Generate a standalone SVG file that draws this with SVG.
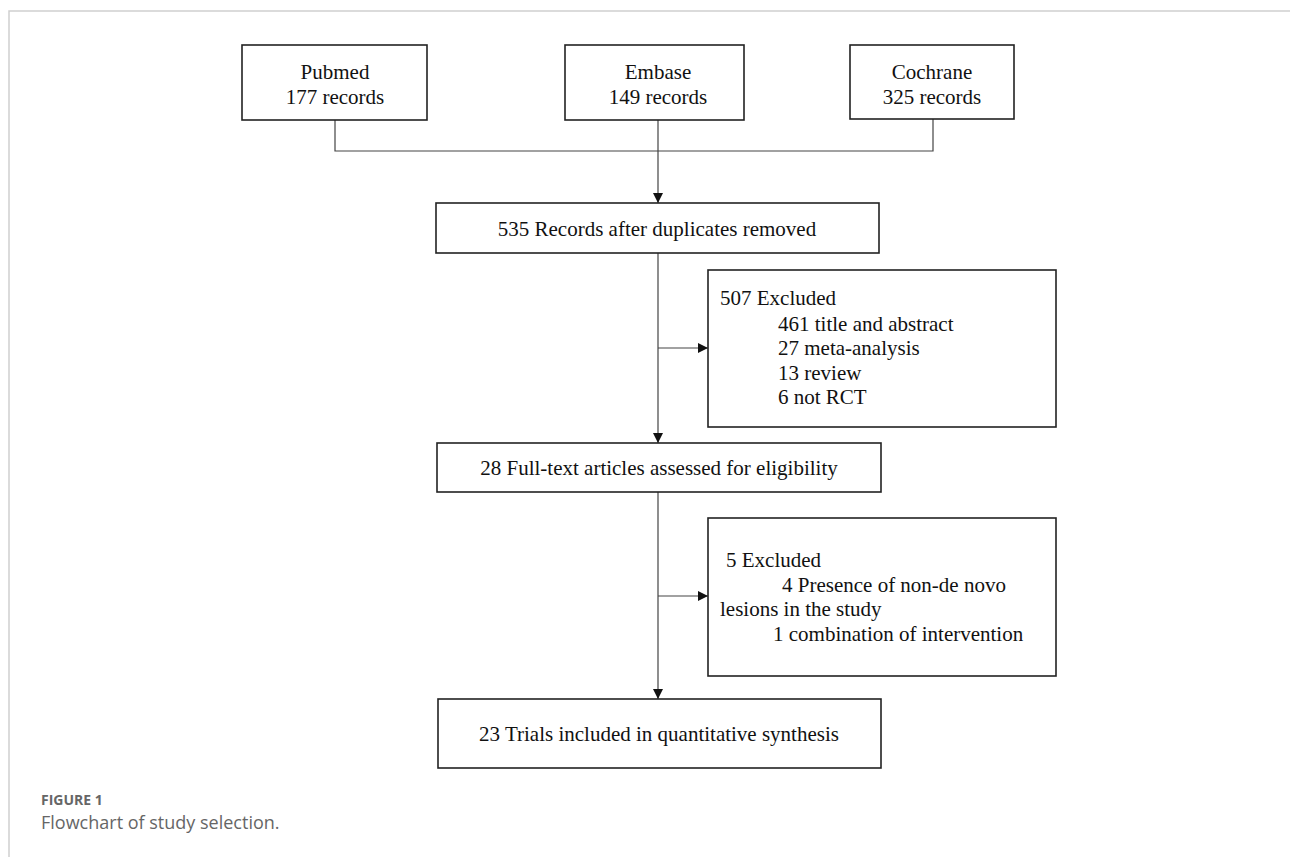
<svg xmlns="http://www.w3.org/2000/svg" width="1290" height="857" viewBox="0 0 1290 857">
<style>
.box{fill:#fff;stroke:#222;stroke-width:1.6}
.t{font-family:"Liberation Serif","Times New Roman",serif;font-size:21px;fill:#111}
.c{text-anchor:middle}
.ln{stroke:#444;stroke-width:1.2;fill:none}
.frame{stroke:#cfcfcf;stroke-width:1.5;fill:none}
</style>
<defs>
<marker id="arr" viewBox="0 0 10 10" refX="10" refY="5" markerWidth="10" markerHeight="10" markerUnits="userSpaceOnUse" orient="auto">
<path d="M0,0 L10,5 L0,10 z" fill="#111"/>
</marker>
</defs>
<path class="frame" d="M9,857 V11 H1290"/>
<g id="connectors">
<path class="ln" d="M335,120 V151 H933 V119"/>
<path class="ln" d="M658,120 V203" marker-end="url(#arr)"/>
<path class="ln" d="M658,253 V443" marker-end="url(#arr)"/>
<path class="ln" d="M658,348 H708" marker-end="url(#arr)"/>
<path class="ln" d="M658,492 V699" marker-end="url(#arr)"/>
<path class="ln" d="M658,596 H708" marker-end="url(#arr)"/>
</g>
<g id="pubmed">
<rect class="box" x="242" y="45" width="185" height="75"/>
<text class="t c" x="335" y="79">Pubmed</text>
<text class="t c" x="335" y="104">177 records</text>
</g>
<g id="embase">
<rect class="box" x="565" y="45" width="179" height="75"/>
<text class="t c" x="658" y="79">Embase</text>
<text class="t c" x="658" y="104">149 records</text>
</g>
<g id="cochrane">
<rect class="box" x="850" y="45" width="164" height="74"/>
<text class="t c" x="932" y="79">Cochrane</text>
<text class="t c" x="932" y="104">325 records</text>
</g>
<g id="dedup">
<rect class="box" x="436" y="203" width="443" height="50"/>
<text class="t c" x="657" y="236">535 Records after duplicates removed</text>
</g>
<g id="excluded1">
<rect class="box" x="708" y="270" width="348" height="157"/>
<text class="t" x="720" y="305">507 Excluded</text>
<text class="t" x="778" y="331">461 title and abstract</text>
<text class="t" x="778" y="355">27 meta-analysis</text>
<text class="t" x="778" y="380">13 review</text>
<text class="t" x="778" y="404">6 not RCT</text>
</g>
<g id="fulltext">
<rect class="box" x="437" y="443" width="444" height="49"/>
<text class="t c" x="659" y="475">28 Full-text articles assessed for eligibility</text>
</g>
<g id="excluded2">
<rect class="box" x="708" y="518" width="348" height="158"/>
<text class="t" x="726" y="567">5 Excluded</text>
<text class="t" x="782" y="592">4 Presence of non-de novo</text>
<text class="t" x="720" y="616">lesions in the study</text>
<text class="t" x="773" y="641">1 combination of intervention</text>
</g>
<g id="included">
<rect class="box" x="438" y="699" width="443" height="69"/>
<text class="t c" x="659" y="741">23 Trials included in quantitative synthesis</text>
</g>
<g id="caption">
<text x="41" y="805" style="font-family:'Open Sans','Noto Sans',sans-serif;font-size:14px;font-weight:bold;fill:#666">FIGURE 1</text>
<text x="41" y="829" style="font-family:'Open Sans','Noto Sans',sans-serif;font-size:18px;fill:#666">Flowchart of study selection.</text>
</g>
</svg>
